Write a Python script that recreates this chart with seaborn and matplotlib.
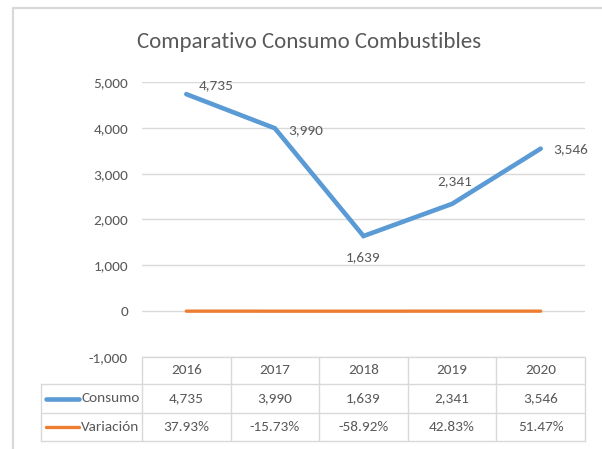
import matplotlib
matplotlib.use("Agg")
import matplotlib.pyplot as plt
from matplotlib.lines import Line2D
from matplotlib.transforms import blended_transform_factory
import seaborn as sns
import pandas as pd

years = ["2016", "2017", "2018", "2019", "2020"]
consumo = [4735, 3990, 1639, 2341, 3546]
variacion = [0.3793, -0.1573, -0.5892, 0.4283, 0.5147]
consumo_labels = ["4,735", "3,990", "1,639", "2,341", "3,546"]
variacion_labels = ["37.93%", "-15.73%", "-58.92%", "42.83%", "51.47%"]
series_names = ["Consumo", "Variación"]
yticks = [-1000, 0, 1000, 2000, 3000, 4000, 5000]
title = "Comparativo Consumo Combustibles"

BLUE = "#5B9BD5"
ORANGE = "#ED7D31"
TXT = "#595959"
GRID = "#D9D9D9"
FS = 11

sns.set_theme(style="white")
plt.rcParams["font.family"] = ["Carlito", "DejaVu Sans"]

W, H = 602, 449
fig = plt.figure(figsize=(W / 100, H / 100), dpi=100)
fig.patch.set_facecolor("white")

def fx(px):
    return px / W

def fy(py):
    return 1 - py / H

ax = fig.add_axes([fx(142), fy(357), fx(585) - fx(142), fy(82) - fy(357)])
ax.set_facecolor("white")

df = pd.DataFrame({"Año": years, "Consumo": consumo, "Variación": variacion})

sns.lineplot(data=df, x="Año", y="Consumo", ax=ax, color=BLUE, linewidth=3.3,
             solid_capstyle="round", solid_joinstyle="miter", zorder=3, sort=False)
sns.lineplot(data=df, x="Año", y="Variación", ax=ax, color=ORANGE, linewidth=2.4,
             solid_capstyle="round", zorder=3, sort=False)

ax.set_xlim(-0.5, len(years) - 0.5)
ax.set_ylim(yticks[0], yticks[-1])
ax.set_yticks(yticks)
ax.set_yticklabels([f"{v:,}" for v in yticks])
ax.tick_params(axis="y", length=0, pad=10, labelsize=FS, labelcolor=TXT)
ax.tick_params(axis="x", length=0, labelbottom=False)
ax.set_xlabel("")
ax.set_ylabel("")
for s in ax.spines.values():
    s.set_visible(False)
ax.grid(False)
for v in yticks:
    ax.axhline(v, color=GRID, linewidth=1.0, zorder=1)

# data labels
offsets = [(30, 9), (31, -2), (0, -21), (3, 23), (30, -1)]
for i, (val, lab) in enumerate(zip(consumo, consumo_labels)):
    dx, dy = offsets[i]
    ax.annotate(lab, (i, val), xytext=(dx, dy), textcoords="offset pixels",
                ha="center", va="center", fontsize=FS, color=TXT,
                annotation_clip=False)

# title
fig.text(fx(309), fy(42), title, ha="center", va="center", fontsize=16.5, color=TXT)

# data table
tr = blended_transform_factory(ax.transData, fig.transFigure)
row_y = [357, 384, 413, 441]
xl_left = -0.5 - (142 - 41) / (443 / 5)
n = len(years)
fig.add_artist(Line2D([-0.5, n - 0.5], [fy(row_y[0])] * 2, transform=tr, color=GRID, lw=1.0))
for ry in row_y[1:]:
    fig.add_artist(Line2D([xl_left, n - 0.5], [fy(ry)] * 2, transform=tr, color=GRID, lw=1.0))
for k in range(n + 1):
    fig.add_artist(Line2D([k - 0.5] * 2, [fy(row_y[0]), fy(row_y[-1])], transform=tr, color=GRID, lw=1.0))
fig.add_artist(Line2D([xl_left] * 2, [fy(row_y[1]), fy(row_y[-1])], transform=tr, color=GRID, lw=1.0))

row_centers = [(row_y[j] + row_y[j + 1]) / 2 for j in range(3)]
for i, yr in enumerate(years):
    fig.text(i, fy(row_centers[0]), yr, transform=tr, ha="center", va="center", fontsize=FS, color=TXT)
    fig.text(i, fy(row_centers[1]), consumo_labels[i], transform=tr, ha="center", va="center", fontsize=FS, color=TXT)
    fig.text(i, fy(row_centers[2]), variacion_labels[i], transform=tr, ha="center", va="center", fontsize=FS, color=TXT)

for j, (name, col, lw) in enumerate(zip(series_names, [BLUE, ORANGE], [3.3, 2.4])):
    yc = fy(row_centers[j + 1])
    fig.add_artist(Line2D([fx(46), fx(79)], [yc, yc], color=col, lw=lw, solid_capstyle="round"))
    fig.text(fx(81), yc, name, ha="left", va="center", fontsize=FS, color=TXT)

# outer frame (top & left visible)
fig.add_artist(Line2D([fx(13), 1.0], [fy(8), fy(8)], color=GRID, lw=1.6))
fig.add_artist(Line2D([fx(13), fx(13)], [fy(8), 0.0], color=GRID, lw=1.6))

fig.savefig("out.png", dpi=100, facecolor="white")
